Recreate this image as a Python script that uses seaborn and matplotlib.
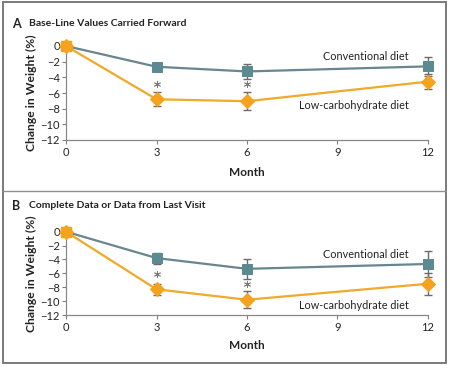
import numpy as np
import pandas as pd
import seaborn as sns
import matplotlib
matplotlib.use("Agg")
import matplotlib.pyplot as plt
from matplotlib.patches import Rectangle
from matplotlib.lines import Line2D

months = [0, 3, 6, 12]
diets = ["Conventional diet", "Low-carbohydrate diet"]

# Panel A: base-line values carried forward
a_conv = [0.0, -2.65, -3.25, -2.6]
a_conv_err = [0.0, 0.4, 1.0, 1.2]
a_low = [0.0, -6.8, -7.05, -4.55]
a_low_err = [0.0, 0.9, 1.15, 1.0]

# Panel B: complete data or data from last visit
b_conv = [0.0, -3.8, -5.35, -4.65]
b_conv_err = [0.0, 0.8, 1.45, 1.9]
b_low = [0.0, -8.3, -9.8, -7.5]
b_low_err = [0.0, 0.8, 1.25, 1.55]

xticks = [0, 3, 6, 9, 12]
yticks = [0, -2, -4, -6, -8, -10, -12]

sns.set_theme(style="white")
plt.rcParams["font.family"] = ["Lato", "DejaVu Sans"]

conv_line = "#67868e"
conv_face = "#5b8a91"
low_line = "#f0a928"
low_face = "#f5a21e"
err_col = "#6b6b6b"
txt_col = "#222222"

fig = plt.figure(figsize=(4.5, 3.68), dpi=100)
fig.patch.set_facecolor("white")

# outer frame and divider
fig.add_artist(Rectangle((3 / 450, 1 - 363 / 368), 443 / 450, 361 / 368, transform=fig.transFigure,
                         fill=False, edgecolor="#707070", linewidth=1.3))
fig.add_artist(Line2D([3 / 450, 446 / 450], [1 - 191.5 / 368, 1 - 191.5 / 368], transform=fig.transFigure,
                      color="#909090", linewidth=1.0))

panels = [
    dict(rect=[66 / 450, 1 - 140 / 368, 362 / 450, 94 / 368], conv=a_conv, conv_err=a_conv_err,
         low=a_low, low_err=a_low_err, letter="A", title="Base-Line Values Carried Forward",
         title_y=24, month_y=173, conv_lab=-1.4, low_lab=-7.65, stars=[(3, -4.8), (6, -4.8)]),
    dict(rect=[66 / 450, 1 - 315 / 368, 362 / 450, 83.3 / 368], conv=b_conv, conv_err=b_conv_err,
         low=b_low, low_err=b_low_err, letter="B", title="Complete Data or Data from Last Visit",
         title_y=205.5, month_y=345.5, conv_lab=-3.3, low_lab=-10.65, stars=[(3, -6.1), (6, -7.6)]),
]

for p in panels:
    ax = fig.add_axes(p["rect"])
    df = pd.DataFrame({
        "Month": months * 2,
        "Change": p["conv"] + p["low"],
        "Diet": [diets[0]] * 4 + [diets[1]] * 4,
    })
    # error bars
    ax.errorbar(months[1:], p["conv"][1:], yerr=p["conv_err"][1:], fmt="none", ecolor=err_col,
                elinewidth=1.0, capsize=3, capthick=1.0, zorder=2, clip_on=False)
    ax.errorbar(months[1:], p["low"][1:], yerr=p["low_err"][1:], fmt="none", ecolor=err_col,
                elinewidth=1.0, capsize=3, capthick=1.0, zorder=2, clip_on=False)
    sns.lineplot(data=df[df.Diet == diets[0]], x="Month", y="Change", ax=ax, color=conv_line,
                 linewidth=1.6, marker="s", markersize=7.5, markerfacecolor=conv_face,
                 markeredgecolor=conv_face, legend=False, zorder=3, clip_on=False)
    sns.lineplot(data=df[df.Diet == diets[1]], x="Month", y="Change", ax=ax, color=low_line,
                 linewidth=1.6, marker="D", markersize=7, markerfacecolor=low_face,
                 markeredgecolor=low_face, legend=False, zorder=4, clip_on=False)
    # square at month 0 drawn in orange on top
    ax.plot([0], [0], marker="s", markersize=7.5, color=low_face, zorder=5, clip_on=False)

    ax.set_xlim(0, 12)
    ax.set_ylim(-12, 0)
    ax.set_xticks(xticks)
    ax.set_yticks(yticks)
    ax.set_xticklabels([str(t) for t in xticks])
    ax.set_yticklabels([str(t).replace("-", "\u2212") for t in yticks])
    ax.tick_params(axis="both", which="both", direction="out", length=3, width=0.8,
                   color="#808080", labelsize=8, labelcolor=txt_col, pad=1.5,
                   left=True, bottom=True)
    ax.tick_params(axis="x", pad=2)
    for s in ["top", "right"]:
        ax.spines[s].set_visible(False)
    for s in ["left", "bottom"]:
        ax.spines[s].set_color("#888888")
        ax.spines[s].set_linewidth(0.9)
    ax.set_xlabel("")
    ax.set_ylabel("Change in Weight (%)", fontsize=8.7, fontweight="bold", color=txt_col, labelpad=2)
    ax.patch.set_alpha(0)

    ax.text(11.35, p["conv_lab"], "Conventional diet", ha="right", va="center", fontsize=7.8, color=txt_col)
    ax.text(11.35, p["low_lab"], "Low-carbohydrate diet", ha="right", va="center", fontsize=7.8, color=txt_col)
    for sx, sy in p["stars"]:
        ax.plot([sx], [sy], marker=(6, 2, 0), markersize=5, markeredgewidth=0.6,
                color="#7a7a7a", linestyle="none", zorder=3)

    fig.text(12 / 450, 1 - p["title_y"] / 368, p["letter"], fontsize=9, fontweight="bold",
             color=txt_col, va="center", ha="left")
    fig.text(29 / 450, 1 - p["title_y"] / 368, p["title"], fontsize=7.5, fontweight="bold",
             color=txt_col, va="center", ha="left")
    fig.text(247 / 450, 1 - p["month_y"] / 368, "Month", fontsize=8.5, fontweight="bold",
             color=txt_col, va="center", ha="center")

fig.savefig("out.png", dpi=100, facecolor="white")
